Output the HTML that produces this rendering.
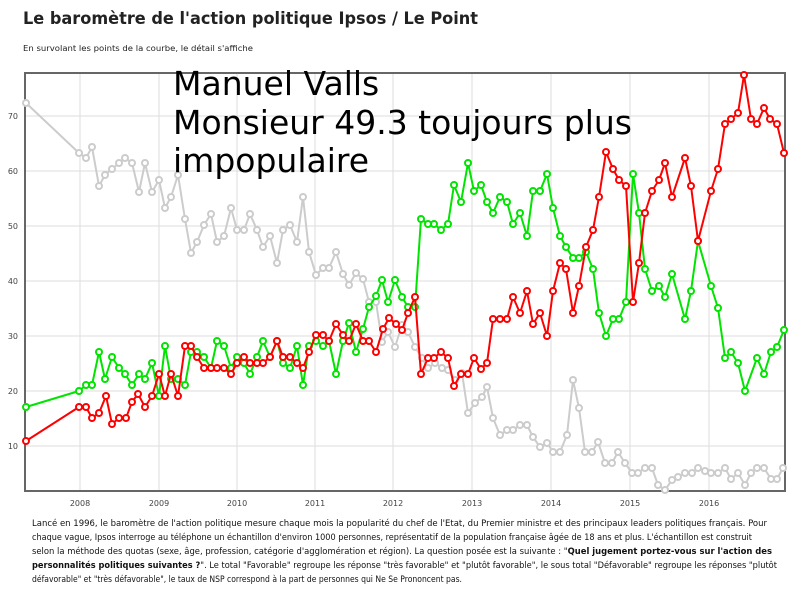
<!DOCTYPE html>
<html><head><meta charset="utf-8"><style>
html,body{margin:0;padding:0;background:#fff;}
svg{display:block;}
</style></head><body>
<svg width="800" height="589" viewBox="0 0 800 589" xmlns="http://www.w3.org/2000/svg" font-family="DejaVu Sans, Liberation Sans, sans-serif">
<defs>
<marker id="mr" markerUnits="userSpaceOnUse" markerWidth="10" markerHeight="10" refX="5" refY="5"><circle cx="5" cy="5" r="3" fill="#fff" stroke="#ff0000" stroke-width="2"/></marker>
<marker id="mg" markerUnits="userSpaceOnUse" markerWidth="10" markerHeight="10" refX="5" refY="5"><circle cx="5" cy="5" r="3" fill="#fff" stroke="#00e400" stroke-width="2"/></marker>
<marker id="mk" markerUnits="userSpaceOnUse" markerWidth="10" markerHeight="10" refX="5" refY="5"><circle cx="5" cy="5" r="3" fill="#fff" stroke="#cccccc" stroke-width="2"/></marker>
</defs>
<text x="23" y="24" font-size="17" font-weight="bold" fill="#222" textLength="455" lengthAdjust="spacingAndGlyphs">Le baromètre de l'action politique Ipsos / Le Point</text>
<text x="23" y="51" font-size="8" fill="#222" textLength="230" lengthAdjust="spacingAndGlyphs">En survolant les points de la courbe, le détail s'affiche</text>
<g stroke="#ddd" stroke-width="1">
<line x1="25" y1="446" x2="785" y2="446"/><line x1="25" y1="391" x2="785" y2="391"/><line x1="25" y1="336" x2="785" y2="336"/><line x1="25" y1="281" x2="785" y2="281"/><line x1="25" y1="226" x2="785" y2="226"/><line x1="25" y1="171" x2="785" y2="171"/><line x1="25" y1="116" x2="785" y2="116"/>
<line x1="80" y1="73" x2="80" y2="491"/><line x1="159" y1="73" x2="159" y2="491"/><line x1="237" y1="73" x2="237" y2="491"/><line x1="315" y1="73" x2="315" y2="491"/><line x1="393" y1="73" x2="393" y2="491"/><line x1="472" y1="73" x2="472" y2="491"/><line x1="551" y1="73" x2="551" y2="491"/><line x1="630" y1="73" x2="630" y2="491"/><line x1="709" y1="73" x2="709" y2="491"/>
</g>
<g font-size="8" fill="#444" text-anchor="end">
<text x="18" y="449">10</text><text x="18" y="394">20</text><text x="18" y="339">30</text><text x="18" y="284">40</text><text x="18" y="229">50</text><text x="18" y="174">60</text><text x="18" y="119">70</text>
</g>
<g font-size="8" fill="#444" text-anchor="middle">
<text x="80" y="506">2008</text><text x="159" y="506">2009</text><text x="237" y="506">2010</text><text x="315" y="506">2011</text><text x="393" y="506">2012</text><text x="472" y="506">2013</text><text x="551" y="506">2014</text><text x="630" y="506">2015</text><text x="709" y="506">2016</text>
</g>
<rect x="25" y="73" width="760" height="418" fill="none" stroke="#666" stroke-width="2"/>
<g fill="none" stroke-width="2" stroke-linejoin="round">
<polyline stroke="#cccccc" marker-start="url(#mk)" marker-mid="url(#mk)" marker-end="url(#mk)" points="26,103 79,153 86,158 92,147 99,186 105,175 112,169 119,163 125,158 132,163 139,192 145,163 152,192 159,180 165,208 171,197 178,175 185,219 191,253 197,242 204,225 211,214 217,242 224,236 231,208 237,230 244,230 250,214 257,230 263,247 270,236 277,263 283,230 290,225 297,242 303,197 309,252 316,275 323,268 329,268 336,252 343,274 349,285 356,273 363,279 369,302 376,302 382,342 388,332 395,347 402,325 408,332 415,347 422,358 428,368 435,363 442,368 448,370 455,380 462,373 468,413 475,403 482,397 487,387 493,418 500,435 507,430 513,430 520,425 527,425 533,437 540,447 547,443 553,452 560,452 567,435 573,380 579,408 585,452 592,452 598,442 605,463 612,463 618,452 625,463 632,473 638,473 645,468 652,468 658,485 665,490 672,480 678,477 685,473 692,473 698,468 705,471 711,473 718,473 725,468 731,479 738,473 745,485 751,473 757,468 764,468 771,479 777,479 783,468"/>
<polyline stroke="#00e400" marker-start="url(#mg)" marker-mid="url(#mg)" marker-end="url(#mg)" points="26,407 79,391 86,385 92,385 99,352 105,379 112,357 119,368 125,374 132,385 139,374 145,379 152,363 159,396 165,346 171,379 178,379 185,385 191,352 197,352 204,357 211,368 217,341 224,346 231,368 237,357 244,363 250,374 257,357 263,341 270,357 277,341 283,363 290,368 297,346 303,385 309,346 316,341 323,346 329,341 336,374 343,341 349,323 356,352 363,329 369,307 376,296 382,280 388,302 395,280 402,297 408,307 415,307 421,219 428,224 434,224 441,230 448,224 454,185 461,202 468,163 474,191 481,185 487,202 493,213 500,197 507,202 513,224 520,213 527,236 533,191 540,191 547,174 553,208 560,236 566,247 573,258 579,258 586,252 593,269 599,313 606,336 613,319 619,319 626,302 633,174 639,213 645,269 652,291 659,286 665,297 672,274 685,319 691,291 698,241 711,286 718,308 725,358 731,352 738,363 745,391 757,358 764,374 771,352 777,347 784,330"/>
<polyline stroke="#ff0000" marker-start="url(#mr)" marker-mid="url(#mr)" marker-end="url(#mr)" points="26,441 79,407 86,407 92,418 99,413 106,396 112,424 119,418 126,418 132,402 138,394 145,407 152,396 159,374 165,396 171,374 178,396 185,346 191,346 197,357 204,368 211,368 217,368 224,368 231,374 237,363 244,357 250,363 257,363 263,363 270,357 277,341 283,357 290,357 297,363 303,368 309,352 316,335 323,335 329,341 336,324 343,335 349,341 356,324 363,341 369,341 376,352 383,329 389,318 396,324 402,330 408,313 415,297 421,374 428,358 434,358 441,352 448,358 454,386 461,374 468,374 474,358 481,369 487,363 493,319 500,319 507,319 513,297 520,313 527,291 533,324 540,313 547,336 553,291 560,263 566,269 573,313 579,286 586,247 593,230 599,197 606,152 613,169 619,180 626,186 633,302 639,263 645,213 652,191 659,180 665,163 672,197 685,158 691,186 698,241 711,191 718,169 725,124 731,119 738,113 744,75 751,119 757,124 764,108 770,119 777,124 784,153"/>
</g>
<g font-size="33" fill="#000">
<text x="173" y="95">Manuel Valls</text>
<text x="173" y="134">Monsieur 49.3 toujours plus</text>
<text x="173" y="172">impopulaire</text>
</g>
<g font-size="8.5" fill="#111">
<text x="32" y="526" textLength="735" lengthAdjust="spacingAndGlyphs">Lancé en 1996, le baromètre de l'action politique mesure chaque mois la popularité du chef de l'Etat, du Premier ministre et des principaux leaders politiques français. Pour</text>
<text x="32" y="540" textLength="720" lengthAdjust="spacingAndGlyphs">chaque vague, Ipsos interroge au téléphone un échantillon d'environ 1000 personnes, représentatif de la population française âgée de 18 ans et plus. L'échantillon est construit</text>
<text x="32" y="554" textLength="740" lengthAdjust="spacingAndGlyphs">selon la méthode des quotas (sexe, âge, profession, catégorie d'agglomération et région). La question posée est la suivante : "<tspan font-weight="bold">Quel jugement portez-vous sur l'action des</tspan></text>
<text x="32" y="568" textLength="745" lengthAdjust="spacingAndGlyphs"><tspan font-weight="bold">personnalités politiques suivantes ?</tspan>". Le total "Favorable" regroupe les réponse "très favorable" et "plutôt favorable", le sous total "Défavorable" regroupe les réponses "plutôt</text>
<text x="32" y="582" textLength="430" lengthAdjust="spacingAndGlyphs">défavorable" et "très défavorable", le taux de NSP correspond à la part de personnes qui Ne Se Prononcent pas.</text>
</g>
</svg>
</body></html>
